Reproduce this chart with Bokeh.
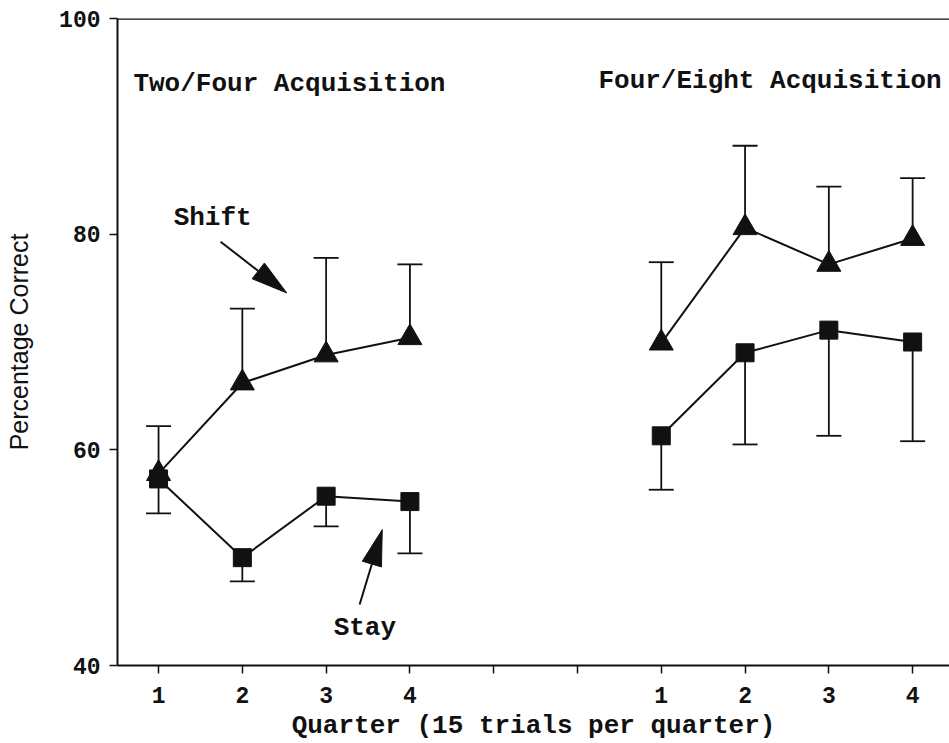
import math
from bokeh.plotting import figure
from bokeh.models import (Range1d, FixedTicker, Span, Label, Whisker, TeeHead,
                          ColumnDataSource)
from bokeh.embed import file_html
from bokeh.resources import INLINE

# ---- data ----
quarters = [1, 2, 3, 4]
x_two_four = [1, 2, 3, 4]
x_four_eight = [7, 8, 9, 10]

shift_two_four = [57.8, 66.2, 68.8, 70.4]
shift_two_four_upper = [62.2, 73.1, 77.8, 77.2]
stay_two_four = [57.3, 50.0, 55.7, 55.2]
stay_two_four_lower = [54.1, 47.8, 52.9, 50.4]

shift_four_eight = [69.9, 80.6, 77.2, 79.6]
shift_four_eight_upper = [77.4, 88.2, 84.4, 85.2]
stay_four_eight = [61.3, 69.0, 71.1, 70.0]
stay_four_eight_lower = [56.3, 60.5, 61.3, 60.8]

x_ticks = [1, 2, 3, 4, 5, 6, 7, 8, 9, 10]
x_tick_labels = ["1", "2", "3", "4", "", "", "1", "2", "3", "4"]
y_ticks = [40, 60, 80, 100]

MONO = "Liberation Mono"
INK = "#111111"

W, H = 949, 743
ML, MT, MB, MR = 117, 18, 77, 0
X0, X1 = 0.51, 10.44
Y0, Y1 = 40, 100

p = figure(width=W, height=H,
           x_range=Range1d(X0, X1), y_range=Range1d(Y0, Y1),
           output_backend="svg", toolbar_location=None,
           min_border_left=ML, min_border_right=MR,
           min_border_top=MT, min_border_bottom=MB)
p.outline_line_color = None
p.xgrid.visible = False
p.ygrid.visible = False
p.background_fill_color = "white"
p.border_fill_color = "white"

# pixel scale factors (for arrow head geometry only)
PX_X = (W - ML - MR) / (X1 - X0)
PX_Y = (H - MT - MB) / (Y1 - Y0)

# axes
p.xaxis.ticker = FixedTicker(ticks=x_ticks)
p.xaxis.major_label_overrides = {t: l for t, l in zip(x_ticks, x_tick_labels)}
p.yaxis.ticker = FixedTicker(ticks=y_ticks)
for ax in (p.xaxis[0], p.yaxis[0]):
    ax.axis_line_width = 2
    ax.axis_line_color = INK
    ax.major_tick_line_width = 1.5
    ax.major_tick_line_color = INK
    ax.major_tick_in = 0
    ax.major_tick_out = 8
    ax.minor_tick_line_color = None
    ax.major_label_text_font = MONO
    ax.major_label_text_font_style = "bold"
    ax.major_label_text_font_size = "23px"
    ax.major_label_text_color = INK

p.xaxis.axis_label = "Quarter (15 trials per quarter)"
p.xaxis.axis_label_text_font = MONO
p.xaxis.axis_label_text_font_style = "bold"
p.xaxis.axis_label_text_font_size = "26px"
p.xaxis.axis_label_text_color = INK
p.xaxis.major_label_standoff = 13
p.xaxis.axis_label_standoff = 5

p.yaxis.axis_label = "Percentage Correct"
p.yaxis.axis_label_text_font = "Liberation Sans"
p.yaxis.axis_label_text_font_style = "normal"
p.yaxis.axis_label_text_font_size = "25px"
p.yaxis.axis_label_text_color = INK
p.yaxis.major_label_standoff = 9
p.yaxis.axis_label_standoff = 23

# top border line
p.add_layout(Span(location=Y1, dimension="width", line_color=INK, line_width=2.5))

# error bars
def add_err(xs, base, bound, upper):
    src = ColumnDataSource(dict(x=xs, base=base, bound=bound))
    head = TeeHead(size=25, line_width=1.8, line_color=INK)
    if upper:
        w = Whisker(source=src, base="x", lower="base", upper="bound",
                    upper_head=head, lower_head=None, line_width=1.8, line_color=INK)
    else:
        w = Whisker(source=src, base="x", lower="bound", upper="base",
                    lower_head=head, upper_head=None, line_width=1.8, line_color=INK)
    p.add_layout(w)

add_err(x_two_four, shift_two_four, shift_two_four_upper, True)
add_err(x_two_four, stay_two_four, stay_two_four_lower, False)
add_err(x_four_eight, shift_four_eight, shift_four_eight_upper, True)
add_err(x_four_eight, stay_four_eight, stay_four_eight_lower, False)

# lines and markers
for xs, ys in ((x_two_four, stay_two_four), (x_four_eight, stay_four_eight)):
    p.line(xs, ys, line_color=INK, line_width=2)
    p.scatter(xs, ys, marker="square", size=18, fill_color=INK, line_color=INK)
for xs, ys in ((x_two_four, shift_two_four), (x_four_eight, shift_four_eight)):
    p.line(xs, ys, line_color=INK, line_width=2)
    p.scatter(xs, ys, marker="triangle", size=24, fill_color=INK, line_color=INK)

# panel titles and annotations
def add_label(x, y, txt):
    p.add_layout(Label(x=x, y=y, text=txt, text_font=MONO, text_font_style="bold",
                       text_font_size="26px", text_color=INK,
                       text_baseline="middle", text_align="left"))

add_label(0.70, 93.9, "Two/Four Acquisition")
add_label(6.25, 94.2, "Four/Eight Acquisition")
add_label(1.18, 81.5, "Shift")
add_label(3.09, 43.5, "Stay")

# pointer arrows with long narrow heads
def add_arrow(xs, ys, xe, ye, head_len=36, head_w=20):
    dx = (xe - xs) * PX_X
    dy = (ye - ys) * PX_Y
    n = math.hypot(dx, dy)
    ux, uy = dx / n, dy / n
    bx, by = -ux * head_len, -uy * head_len
    px_, py_ = -uy * head_w / 2, ux * head_w / 2
    base_x = xe + bx / PX_X
    base_y = ye + by / PX_Y
    p.line([xs, base_x], [ys, base_y], line_color=INK, line_width=2)
    p.patch([xe, base_x + px_ / PX_X, base_x - px_ / PX_X],
            [ye, base_y + py_ / PX_Y, base_y - py_ / PX_Y],
            fill_color=INK, line_color=INK)

add_arrow(1.74, 79.3, 2.53, 74.55)
add_arrow(3.40, 45.65, 3.67, 52.6)

open("out.html", "w").write(file_html(p, INLINE))
